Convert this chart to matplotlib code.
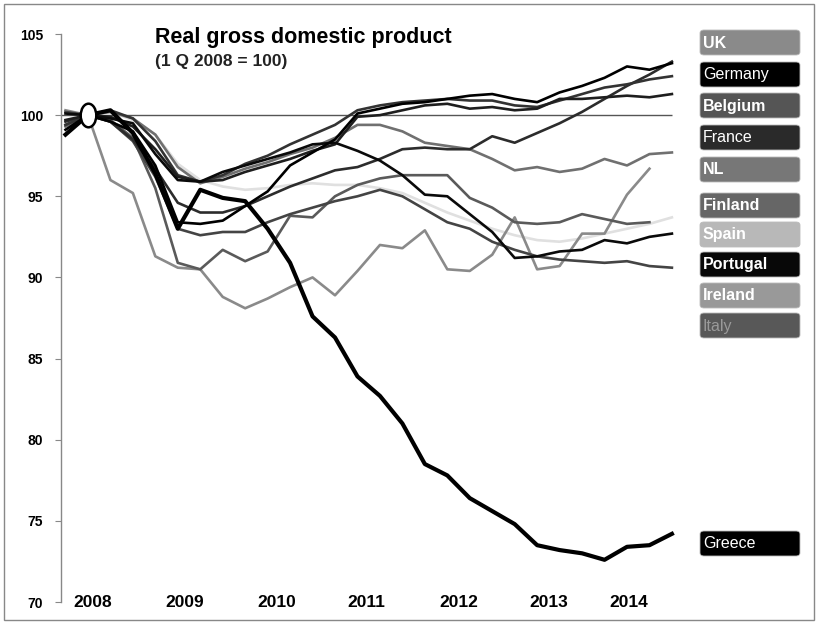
import numpy as np
import matplotlib.pyplot as plt
from matplotlib.patches import FancyBboxPatch, Rectangle
from matplotlib.path import Path
from matplotlib.transforms import Affine2D

plt.rcParams['font.family'] = ['Liberation Sans', 'DejaVu Sans']

# quarters 2007Q4 .. 2014Q3, index 0 = 1Q 2008
quarters = ['2007Q4'] + ['%dQ%d' % (y, q) for y in range(2008, 2015) for q in range(1, 5)][:27]
x = np.arange(len(quarters)) - 1

uk = [99.6, 100.0, 99.6, 98.5, 96.7, 94.6, 94.0, 94.0, 94.4, 95.0, 95.6, 96.1, 96.6, 96.8,
      97.3, 97.9, 98.0, 97.9, 97.9, 98.7, 98.3, 98.9, 99.5, 100.2, 101.0, 101.8, 102.5, 103.3]
germany = [99.1, 100.0, 99.6, 99.0, 96.9, 93.4, 93.3, 93.5, 94.4, 95.3, 96.9, 97.7, 98.5, 100.1,
           100.4, 100.7, 100.8, 101.0, 101.2, 101.3, 101.0, 100.8, 101.4, 101.8, 102.3, 103.0, 102.8, 103.2]
belgium = [99.4, 100.0, 100.3, 99.8, 98.4, 96.3, 95.9, 96.3, 97.0, 97.5, 98.2, 98.8, 99.4, 100.3,
           100.6, 100.8, 100.9, 101.0, 100.9, 100.9, 100.6, 100.5, 100.9, 101.3, 101.7, 101.9, 102.2, 102.4]
france = [99.7, 100.0, 99.9, 99.3, 97.9, 96.2, 95.9, 96.0, 96.5, 96.9, 97.3, 97.8, 98.2, 99.9,
          100.0, 100.3, 100.6, 100.7, 100.4, 100.5, 100.3, 100.4, 101.0, 101.0, 101.1, 101.2, 101.1, 101.3]
nl = [99.3, 100.0, 100.2, 99.8, 98.8, 96.8, 95.8, 96.2, 96.7, 97.1, 97.6, 98.0, 98.6, 99.4,
      99.4, 99.0, 98.3, 98.1, 97.9, 97.3, 96.6, 96.8, 96.5, 96.7, 97.3, 96.9, 97.6, 97.7]
finland = [99.4, 100.0, 99.7, 98.6, 95.5, 90.9, 90.5, 91.7, 91.0, 91.6, 93.8, 93.7, 95.0, 95.7,
           96.1, 96.3, 96.3, 96.3, 94.9, 94.3, 93.4, 93.3, 93.4, 93.9, 93.6, 93.3, 93.4]
spain = [99.6, 100.0, 100.2, 99.7, 98.8, 97.0, 96.0, 95.6, 95.4, 95.5, 95.7, 95.8, 95.7, 95.7,
         95.5, 95.2, 94.6, 94.0, 93.5, 93.0, 92.6, 92.3, 92.2, 92.4, 92.7, 93.0, 93.3, 93.7]
portugal = [100.1, 100.0, 99.8, 99.5, 97.6, 96.0, 95.9, 96.5, 96.9, 97.3, 97.7, 98.2, 98.3, 97.8,
            97.2, 96.3, 95.1, 95.0, 93.9, 92.8, 91.2, 91.3, 91.6, 91.7, 92.3, 92.1, 92.5, 92.7]
ireland = [100.3, 100.0, 96.0, 95.2, 91.3, 90.6, 90.5, 88.8, 88.1, 88.7, 89.4, 90.0, 88.9, 90.4,
           92.0, 91.8, 92.9, 90.5, 90.4, 91.4, 93.7, 90.5, 90.7, 92.7, 92.7, 95.1, 96.7]
italy = [100.2, 100.0, 99.6, 98.4, 96.2, 93.0, 92.6, 92.8, 92.8, 93.4, 93.9, 94.3, 94.7, 95.0,
         95.4, 95.0, 94.2, 93.4, 93.0, 92.2, 91.7, 91.3, 91.1, 91.0, 90.9, 91.0, 90.7, 90.6]
greece = [98.8, 100.0, 100.3, 98.9, 96.4, 93.0, 95.4, 94.9, 94.7, 93.0, 90.9, 87.6, 86.3, 83.9,
          82.7, 81.0, 78.5, 77.8, 76.4, 75.6, 74.8, 73.5, 73.2, 73.0, 72.6, 73.4, 73.5, 74.2]

countries = ['UK', 'Germany', 'Belgium', 'France', 'NL', 'Finland', 'Spain',
             'Portugal', 'Ireland', 'Italy', 'Greece']
series = [uk, germany, belgium, france, nl, finland, spain, portugal, ireland, italy, greece]
line_colors = ['#2c2c2c', '#000000', '#333333', '#1e1e1e', '#707070', '#5a5a5a', '#e0e0e0',
               '#0a0a0a', '#8a8a8a', '#444444', '#000000']
box_colors = ['#8a8a8a', '#000000', '#555555', '#2a2a2a', '#777777', '#666666', '#b8b8b8',
              '#080808', '#999999', '#585858', '#000000']
text_colors = ['white'] * 9 + ['#9a9a9a', 'white']
text_weights = ['bold', 'normal', 'bold', 'normal', 'bold', 'bold', 'bold', 'bold', 'bold',
                'normal', 'normal']

year_labels = ['2008', '2009', '2010', '2011', '2012', '2013', '2014']
year_pos = [0.2, 4.3, 8.4, 12.4, 16.5, 20.5, 24.1]

fig = plt.figure(figsize=(8.18, 6.24), dpi=100)
W, H = 818, 624
ax = fig.add_axes([61 / W, 1 - 602 / H, (680 - 61) / W, (602 - 34) / H])
ax.set_xlim(-1.2, 26.36)
ax.set_ylim(70, 105)

ax.hlines(100, -1.2, 26, color='#555555', lw=1, zorder=1)

# draw light lines first, Greece last
order = [6, 8, 4, 5, 9, 0, 2, 3, 7, 1, 10]
for i in order:
    vals = series[i]
    lw = 3.0 if countries[i] == 'Greece' else 1.9
    ax.plot(x[:len(vals)], vals, color=line_colors[i], lw=lw, solid_joinstyle='round',
            zorder=2)

ell = Path.unit_circle().transformed(Affine2D().scale(0.66, 1.0))
ax.plot([0], [100], marker=ell, markersize=17, markerfacecolor='white',
        markeredgecolor='black', markeredgewidth=1.8, zorder=5)

for s in ['top', 'right', 'bottom']:
    ax.spines[s].set_visible(False)
ax.spines['left'].set_color('#888888')
ax.spines['left'].set_linewidth(1)

ax.set_yticks(np.arange(70, 106, 5))
ax.set_yticklabels([str(v) for v in range(70, 106, 5)], fontweight='bold', fontsize=10)
ax.tick_params(axis='y', length=4, color='#888888', pad=9)
ax.set_xticks(year_pos)
ax.set_xticklabels(year_labels, fontweight='bold', fontsize=12.5)
ax.tick_params(axis='x', length=0, pad=-5)

fig.text(155 / W, 1 - 43 / H, 'Real gross domestic product', fontsize=15.5,
         fontweight='bold', va='baseline')
fig.text(155 / W, 1 - 66 / H, '(1 Q 2008 = 100)', fontsize=12.5, fontweight='bold',
         color='#222222', va='baseline')

# legend boxes
box_tops = [30, 62, 93, 125, 157, 193, 222, 252, 283, 313, 531]
for name, top, bc, tc, tw in zip(countries, box_tops, box_colors, text_colors, text_weights):
    box = FancyBboxPatch((700 / W, 1 - (top + 25) / H), 100 / W, 25 / H,
                         boxstyle='round,pad=0,rounding_size=0.005',
                         transform=fig.transFigure, facecolor=bc, edgecolor='#bbbbbb',
                         lw=0.6)
    fig.add_artist(box)
    fig.text(703 / W, 1 - (top + 13) / H, name, color=tc, fontsize=11.5,
             fontweight=tw, va='center')

fig.add_artist(Rectangle((4 / W, 4 / H), 810 / W, 616 / H, transform=fig.transFigure,
                         fill=False, edgecolor='#888888', lw=1))

fig.savefig('out.png', dpi=100)
